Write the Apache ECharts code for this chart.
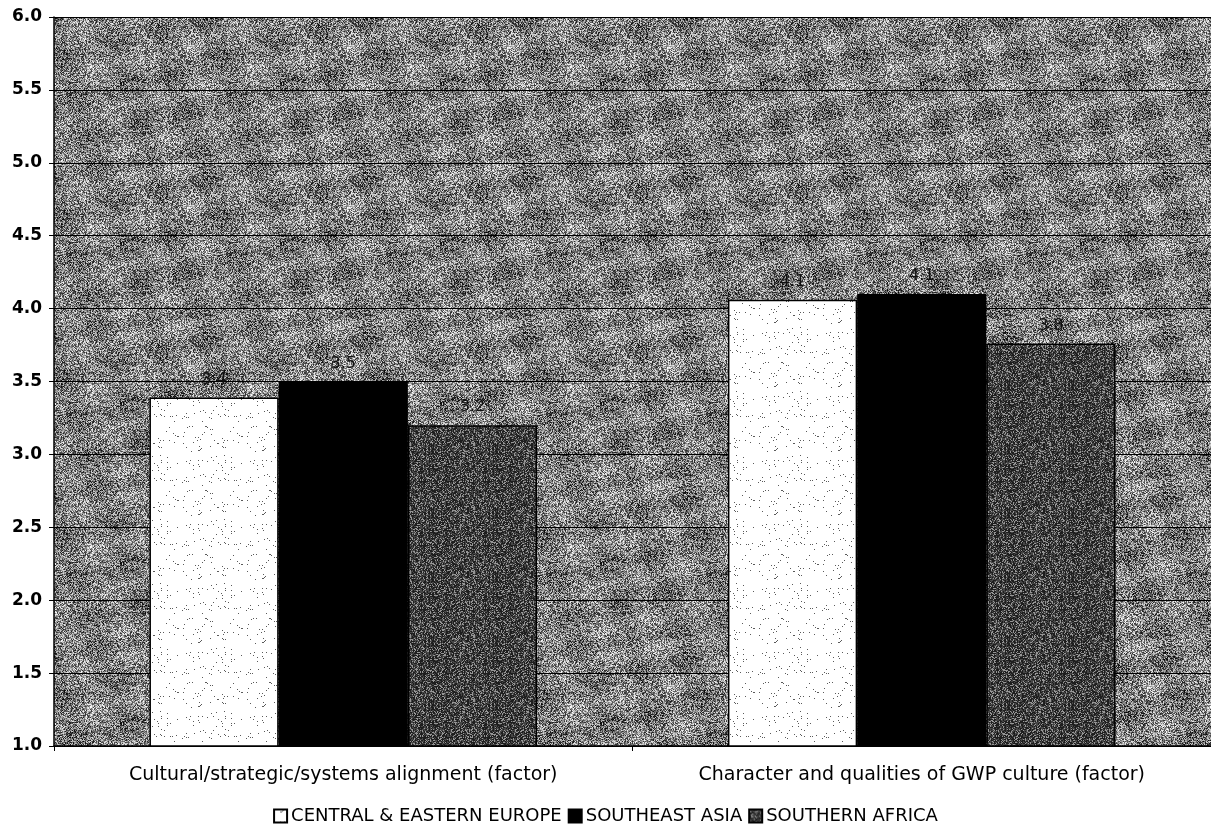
<!DOCTYPE html>
<html>
<head>
<meta charset="utf-8">
<script src="https://cdn.jsdelivr.net/npm/echarts@6/dist/echarts.min.js"></script>
<style>
  html, body { margin: 0; padding: 0; background: #fff; }
  #main { width: 1211px; height: 832px; }
</style>
</head>
<body>
<div id="main"></div>
<script>
var categories = [
  "Cultural/strategic/systems alignment (factor)",
  "Character and qualities of GWP culture (factor)"
];
var seriesNames = ["CENTRAL & EASTERN EUROPE", "SOUTHEAST ASIA", "SOUTHERN AFRICA"];
var ceeValues = [3.39, 4.06];
var seaValues = [3.50, 4.10];
var safValues = [3.20, 3.76];
var yTicks = [1.0, 1.5, 2.0, 2.5, 3.0, 3.5, 4.0, 4.5, 5.0, 5.5, 6.0];

// hash noise so the scanned-looking textures come out the same every time
function hash(i) {
  var x = Math.sin(i * 12.9898 + 78.233) * 43758.5453;
  return x - Math.floor(x);
}
function makeTexture(size, fn) {
  var c = document.createElement("canvas");
  c.width = size;
  c.height = size;
  var ctx = c.getContext("2d");
  var img = ctx.createImageData(size, size);
  for (var y = 0; y < size; y++) {
    for (var x = 0; x < size; x++) {
      var v = fn(x, y, hash(y * size + x + 1));
      var k = (y * size + x) * 4;
      img.data[k] = v;
      img.data[k + 1] = v;
      img.data[k + 2] = v;
      img.data[k + 3] = 255;
    }
  }
  ctx.putImageData(img, 0, 0);
  return c;
}
var bgTexture = makeTexture(160, function (x, y, r) {
  var base = 128 + 28 * Math.sin(x / 13 + y / 19) * Math.cos(y / 11 - x / 29);
  return Math.max(0, Math.min(255, base + (r - 0.5) * 210));
});
var dotTexture = makeTexture(64, function (x, y, r) {
  return r < 0.025 ? 90 : 255;
});
var darkTexture = makeTexture(64, function (x, y, r) {
  return r < 0.22 ? 150 : (r < 0.6 ? 70 : 30);
});

var font = "'DejaVu Sans', Verdana, sans-serif";

function barSeries(name, data, fill) {
  return {
    name: name,
    type: "bar",
    data: data,
    barGap: "0%",
    barCategoryGap: "33%",
    itemStyle: { color: fill, borderColor: "#000", borderWidth: 1.5 },
    label: {
      show: true,
      position: "top",
      distance: 10,
      color: "#111",
      fontFamily: font,
      fontSize: 16,
      formatter: function (p) { return p.value.toFixed(1); }
    }
  };
}

var myChart = echarts.init(document.getElementById("main"));
myChart.setOption({
  animation: false,
  backgroundColor: "#fff",
  grid: {
    left: 54,
    right: 0,
    top: 17,
    bottom: 86,
    show: true,
    borderWidth: 0,
    backgroundColor: { image: bgTexture, repeat: "repeat" }
  },
  legend: {
    data: seriesNames,
    bottom: 2,
    left: "center",
    itemWidth: 13,
    itemHeight: 13,
    itemGap: 6,
    icon: "rect",
    textStyle: { fontFamily: font, fontSize: 18, color: "#000", padding: [0, 0, 0, -1] }
  },
  xAxis: {
    type: "category",
    data: categories,
    axisLine: { show: true, lineStyle: { color: "#000", width: 1.5 } },
    axisTick: { show: true, alignWithLabel: false, length: 5, lineStyle: { color: "#000" } },
    axisLabel: { interval: 0, fontFamily: font, fontSize: 19, color: "#000", margin: 20 },
    splitLine: { show: false }
  },
  yAxis: {
    type: "value",
    min: 1.0,
    max: 6.0,
    interval: 0.5,
    axisLine: { show: true, lineStyle: { color: "#000", width: 1.5 } },
    axisTick: { show: true, length: 5, lineStyle: { color: "#000" } },
    axisLabel: {
      fontFamily: font,
      fontSize: 17,
      fontWeight: "bold",
      color: "#000",
      margin: 12,
      formatter: function (v) {
        var t = yTicks.find(function (a) { return Math.abs(a - v) < 1e-6; });
        return t !== undefined ? t.toFixed(1) : "";
      }
    },
    splitLine: { show: true, lineStyle: { color: "#000", width: 1.2 } }
  },
  series: [
    barSeries(seriesNames[0], ceeValues, { image: dotTexture, repeat: "repeat" }),
    barSeries(seriesNames[1], seaValues, "#000"),
    barSeries(seriesNames[2], safValues, { image: darkTexture, repeat: "repeat" })
  ]
});
</script>
</body>
</html>
